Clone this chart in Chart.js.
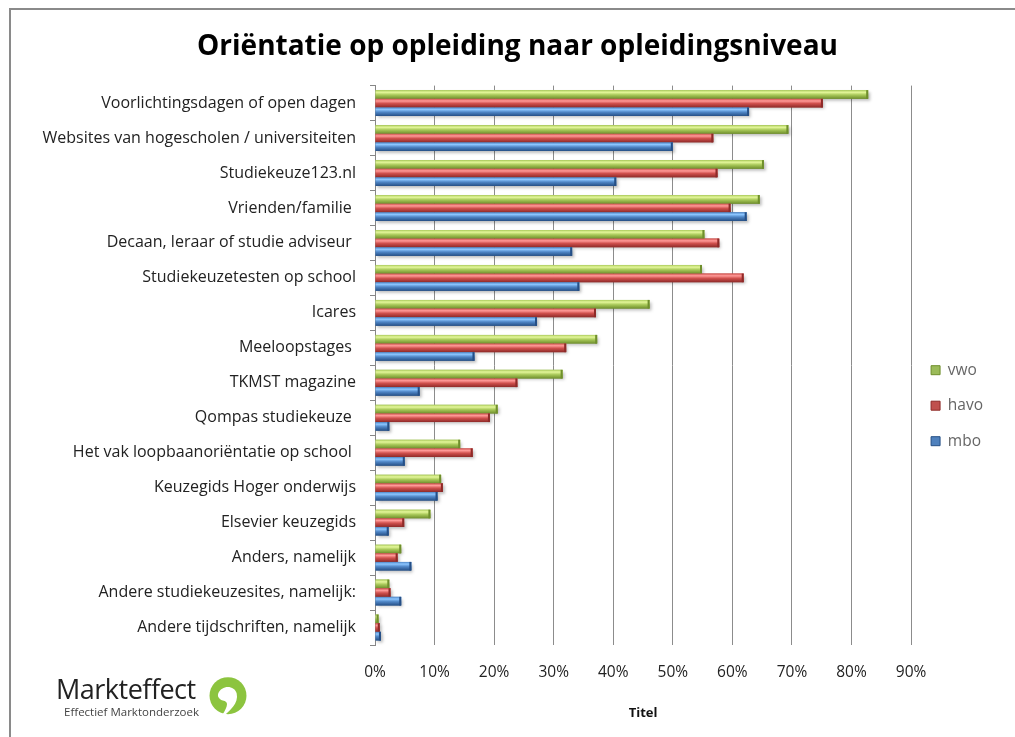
<!DOCTYPE html>
<html lang="nl">
<head>
<meta charset="UTF-8">
<script src="https://cdn.jsdelivr.net/npm/chart.js"></script>
<title>Oriëntatie op opleiding</title>
<style>
    body { margin: 0; background: #fff; }
    #wrap { position: relative; width: 1015px; height: 737px; overflow: hidden; }
    #frame { position: absolute; left: 9px; top: 8px; width: 1100px; height: 800px; border: 2px solid #8a8a8a; box-sizing: border-box; pointer-events: none; }
    #logo { position: absolute; left: 52px; top: 672px; width: 196px; height: 54px; font-family: "Open Sans", sans-serif; color: #222; }
    #logo .big { position: absolute; left: 4px; top: 2px; font-size: 27px; letter-spacing: -0.5px; line-height: 30px; }
    #logo .small { position: absolute; left: 12px; top: 33px; font-size: 11.5px; color: #444; line-height: 14px; }
    #logo svg { position: absolute; left: 156px; top: 3px; }
</style>
</head>
<body>
<div id="wrap">
    <canvas id="myChart" width="1015" height="737"></canvas>
    <div id="frame"></div>
    <div id="logo">
        <span class="big">Markteffect</span>
        <span class="small">Effectief Marktonderzoek</span>
        <svg width="40" height="50" viewBox="0 0 36 46">
            <circle cx="18" cy="19" r="17" fill="#8cc43f"/>
            <path d="M9 17 C 12 9, 24 9, 26 17 C 28 26, 20 33, 11 40 C 17 30, 19 26, 15 24 C 10 23, 8 20, 9 17 Z" fill="#fff"/>
        </svg>
    </div>
</div>
<script>
    // categorieën van boven naar beneden
    let labels = [
        'Voorlichtingsdagen of open dagen',
        'Websites van hogescholen / universiteiten',
        'Studiekeuze123.nl',
        'Vrienden/familie ',
        'Decaan, leraar of studie adviseur ',
        'Studiekeuzetesten op school',
        'Icares',
        'Meeloopstages ',
        'TKMST magazine',
        'Qompas studiekeuze ',
        'Het vak loopbaanoriëntatie op school ',
        'Keuzegids Hoger onderwijs',
        'Elsevier keuzegids',
        'Anders, namelijk',
        'Andere studiekeuzesites, namelijk:',
        'Andere tijdschriften, namelijk'
    ];
    // waarden in procenten
    let vwo  = [82.8, 69.4, 65.3, 64.6, 55.3, 54.9, 46.1, 37.3, 31.5, 20.6, 14.3, 11.1, 9.3, 4.4, 2.4, 0.6];
    let havo = [75.2, 56.8, 57.5, 59.7, 57.8, 61.9, 37.1, 32.1, 23.9, 19.3, 16.4, 11.4, 4.9, 3.8, 2.6, 0.8];
    let mbo  = [62.8, 50.0, 40.5, 62.4, 33.1, 34.3, 27.2, 16.7, 7.5, 2.4, 5.0, 10.5, 2.3, 6.1, 4.4, 1.0];
    let xTicks = [0, 10, 20, 30, 40, 50, 60, 70, 80, 90];

    let shades = {
        vwo:  ['#e4f79a', '#a9c95a', '#6f8f2c'],
        havo: ['#ff9a98', '#d0504d', '#8e2a28'],
        mbo:  ['#8cc6ff', '#4f86c6', '#254f86']
    };

    // cilinder-achtige glans over elke balk
    const barShine = {
        id: 'barShine',
        afterDatasetsDraw(chart) {
            const ctx = chart.ctx;
            chart.data.datasets.forEach((ds, i) => {
                const meta = chart.getDatasetMeta(i);
                const s = shades[ds.label];
                meta.data.forEach(bar => {
                    const top = bar.y - bar.height / 2;
                    const left = Math.min(bar.base, bar.x);
                    const w = Math.abs(bar.x - bar.base);
                    ctx.save();
                    ctx.shadowColor = 'rgba(0,0,0,0.25)';
                    ctx.shadowOffsetX = 2;
                    ctx.shadowOffsetY = 2;
                    ctx.shadowBlur = 3;
                    const g = ctx.createLinearGradient(0, top, 0, top + bar.height);
                    g.addColorStop(0, s[1]);
                    g.addColorStop(0.25, s[0]);
                    g.addColorStop(0.55, s[1]);
                    g.addColorStop(1, s[2]);
                    ctx.fillStyle = g;
                    ctx.fillRect(left, top, w, bar.height);
                    ctx.restore();
                    ctx.fillStyle = s[2];
                    ctx.fillRect(left + w - 2, top, 2, bar.height);
                });
            });
        }
    };

    let ctx = document.getElementById('myChart');
    let myChart = new Chart(ctx, {
        type: 'bar',
        data: {
            labels: labels,
            datasets: [
                { label: 'vwo', data: vwo, backgroundColor: '#9bbb59' },
                { label: 'havo', data: havo, backgroundColor: '#c0504d' },
                { label: 'mbo', data: mbo, backgroundColor: '#4f81bd' }
            ]
        },
        options: {
            indexAxis: 'y',
            responsive: false,
            animation: false,
            events: [],
            datasets: { bar: { barPercentage: 1, categoryPercentage: 0.74 } },
            layout: { padding: { top: 20, right: 22, bottom: 16, left: 42 } },
            scales: {
                x: {
                    min: 0, max: 90,
                    afterBuildTicks(scale) { scale.ticks = xTicks.map(v => ({ value: v })); },
                    afterFit(scale) { scale.height = 76; },
                    ticks: {
                        callback: v => v + '%',
                        color: '#222',
                        padding: 18,
                        font: { family: 'Open Sans', size: 15.5 }
                    },
                    grid: { color: '#8c8c8c', lineWidth: 1, tickLength: 8, drawTicks: false },
                    border: { display: false },
                    title: {
                        display: true, text: 'Titel', color: '#111',
                        font: { family: 'Open Sans', size: 13, weight: 'bold' },
                        padding: { top: 0, bottom: 0 }
                    }
                },
                y: {
                    afterFit(scale) { scale.width = 333; },
                    ticks: {
                        color: '#222',
                        padding: 14,
                        font: { family: 'Open Sans', size: 16 }
                    },
                    grid: { offset: true, drawOnChartArea: false, tickLength: 5, color: '#868686' },
                    border: { color: '#868686' }
                }
            },
            plugins: {
                title: {
                    display: true,
                    text: 'Oriëntatie op opleiding naar opleidingsniveau',
                    color: '#000',
                    font: { family: 'Open Sans', size: 28, weight: 'bold' },
                    padding: { top: 10, bottom: 22 }
                },
                legend: {
                    position: 'right',
                    title: { display: true, text: ' ', padding: { top: 56, bottom: 0 } },
                    labels: {
                        boxWidth: 9, boxHeight: 9, padding: 20,
                        color: '#222',
                        font: { family: 'Open Sans', size: 15.5 },
                        generateLabels(chart) {
                            return chart.data.datasets.map((ds, i) => ({
                                text: ds.label, fillStyle: ds.backgroundColor,
                                strokeStyle: shades[ds.label][2], lineWidth: 1, datasetIndex: i
                            }));
                        }
                    }
                },
                tooltip: { enabled: false }
            }
        },
        plugins: [barShine]
    });
</script>
</body>
</html>
